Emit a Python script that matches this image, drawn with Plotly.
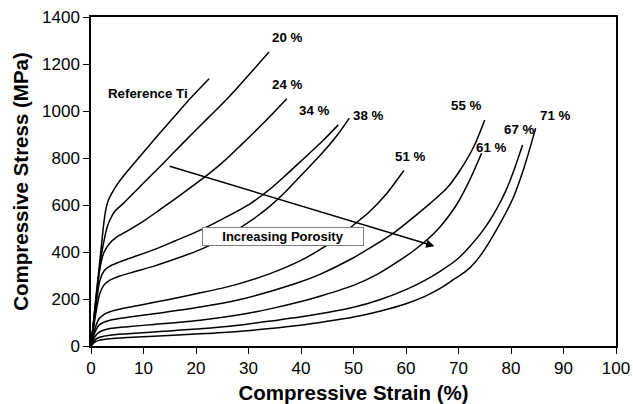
import plotly.graph_objects as go

# ---- data (strain %, stress MPa) ----
ref_x = [0, 1, 2, 2.4, 2.8, 3.3, 4, 5, 6.15, 9.3, 12.5, 15.7, 18.9, 22.5]
ref_y = [0, 220, 430, 515, 578, 620, 652, 688, 722, 806, 890, 972, 1053, 1137]

p20_x = [0, 1, 2, 2.5, 3, 3.6, 4.5, 6.15, 9.3, 12.5, 15.7, 18.9, 22.5, 26.5, 30, 33.9]
p20_y = [0, 210, 390, 450, 500, 536, 572, 607, 678, 749, 822, 895, 975, 1065, 1152, 1251]

p24_x = [0, 1, 1.7, 2.5, 3.5, 5, 6.8, 10.3, 13, 15.7, 19, 22.3, 25.5, 28.7, 33, 37.3]
p24_y = [0, 200, 330, 400, 435, 465, 488, 536, 578, 621, 675, 730, 790, 858, 952, 1052]

p34_x = [0, 1, 1.7, 2.5, 3.6, 5.5, 8.1, 12, 16, 20.8, 25, 30.3, 34.1, 37, 40.4, 44, 47.1]
p34_y = [0, 180, 280, 320, 340, 358, 379, 410, 447, 493, 540, 605, 668, 725, 795, 870, 941]

p38_x = [0, 1, 1.7, 2.5, 3.6, 5.5, 8.1, 12, 16, 20.8, 25, 28.4, 31.5, 34.1, 37, 40.4, 44, 47, 49.2]
p38_y = [0, 150, 225, 260, 280, 298, 315, 340, 370, 410, 455, 503, 550, 595, 655, 735, 820, 900, 970]

p51_x = [0, 0.7, 1.5, 2.5, 3.6, 6, 10, 14.4, 20, 27.1, 34.1, 39.8, 43.6, 47, 50, 53, 56, 59.6]
p51_y = [0, 70, 115, 135, 146, 160, 177, 196, 222, 258, 308, 362, 410, 460, 515, 570, 640, 747]

p55_x = [0, 0.7, 1.5, 2.5, 3.6, 7, 12, 20.8, 28, 34.1, 39.8, 43.6, 49.2, 53, 57.6, 61, 64.6, 67.8, 70.3, 72.9, 75]
p55_y = [0, 55, 88, 102, 110, 122, 137, 166, 196, 232, 272, 305, 366, 415, 480, 540, 607, 672, 748, 848, 962]

p61_x = [0, 0.7, 1.5, 2.5, 3.6, 7, 12, 20.8, 28, 34.1, 39.8, 43.6, 50, 54.5, 58.5, 62, 66, 69.6, 71.9, 74.4]
p61_y = [0, 38, 58, 68, 74, 82, 92, 110, 132, 158, 188, 212, 258, 305, 360, 415, 495, 600, 695, 820]

p67_x = [0, 0.7, 1.5, 2.5, 3.6, 7, 12, 20.8, 28, 34.1, 39.8, 43.6, 50, 55, 60, 63.5, 66.5, 69.7, 72.2, 74.7, 77.3, 79, 80.6, 82.2]
p67_y = [0, 24, 36, 42, 46, 52, 60, 73, 88, 106, 123, 137, 165, 197, 240, 278, 318, 368, 425, 493, 585, 660, 750, 855]

p71_x = [0, 0.7, 1.5, 2.5, 3.6, 7, 12, 20.8, 28, 34.1, 39.8, 43.6, 50, 55, 60, 63.5, 66.5, 69, 71.6, 73.3, 74.8, 76.6, 78.5, 80.4, 82.5, 84.7]
p71_y = [0, 16, 24, 28, 31, 36, 42, 52, 62, 74, 88, 100, 123, 148, 180, 210, 245, 282, 322, 360, 405, 470, 545, 630, 760, 927]

series = [
    ("Reference Ti", ref_x, ref_y),
    ("20 %", p20_x, p20_y),
    ("24 %", p24_x, p24_y),
    ("34 %", p34_x, p34_y),
    ("38 %", p38_x, p38_y),
    ("51 %", p51_x, p51_y),
    ("55 %", p55_x, p55_y),
    ("61 %", p61_x, p61_y),
    ("67 %", p67_x, p67_y),
    ("71 %", p71_x, p71_y),
]

# curve labels (text, x, y in data units)
label_text = ["Reference Ti", "20 %", "24 %", "34 %", "38 %", "51 %", "55 %", "61 %", "67 %", "71 %"]
label_x = [10.9, 37.4, 37.4, 42.4, 52.7, 60.8, 71.4, 76.2, 81.6, 88.4]
label_y = [1076, 1313, 1113, 1001, 979, 807, 1022, 844, 922, 979]

arrow_tail = (14.7, 767)
arrow_head = (65.4, 425)
box_text = "Increasing Porosity"
box_pos = (36.5, 467)

x_ticks = [0, 10, 20, 30, 40, 50, 60, 70, 80, 90, 100]
y_ticks = [0, 200, 400, 600, 800, 1000, 1200, 1400]

FONT = "Arial, Liberation Sans, sans-serif"

fig = go.Figure()
for name, xs, ys in series:
    fig.add_trace(go.Scatter(
        x=xs, y=ys, mode="lines", name=name,
        line=dict(color="black", width=1.5, shape="spline", smoothing=0.8),
        showlegend=False, hoverinfo="skip",
    ))

for t, lx, ly in zip(label_text, label_x, label_y):
    fig.add_annotation(x=lx, y=ly, text=f"<b>{t}</b>", showarrow=False,
                       font=dict(family=FONT, size=13.3, color="black"))

# arrow
fig.add_annotation(x=arrow_head[0], y=arrow_head[1], ax=arrow_tail[0], ay=arrow_tail[1],
                   xref="x", yref="y", axref="x", ayref="y", text="",
                   showarrow=True, arrowhead=2, arrowsize=1.1, arrowwidth=1.5,
                   arrowcolor="black")

# boxed text
fig.add_annotation(x=box_pos[0], y=box_pos[1], text=f"<b>{box_text}</b>", showarrow=False,
                   font=dict(family=FONT, size=13, color="black"),
                   bgcolor="white", bordercolor="#7f7f7f", borderwidth=1,
                   width=158, height=15, borderpad=1)

fig.update_layout(
    width=633, height=404,
    margin=dict(l=91, r=17, t=17, b=58),
    paper_bgcolor="white", plot_bgcolor="white",
    font=dict(family=FONT, color="black"),
)
fig.update_xaxes(
    range=[0, 100], tickvals=x_ticks, ticktext=[str(v) for v in x_ticks],
    showgrid=False, zeroline=False, showline=True, linecolor="black", linewidth=1.5,
    mirror=True, ticks="outside", ticklen=6, tickcolor="black", tickwidth=1.2,
    tickfont=dict(family=FONT, size=17, color="black"), automargin=False,
    title=dict(text="<b>Compressive Strain (%)</b>", font=dict(family=FONT, size=20.5), standoff=12),
)
fig.update_yaxes(
    range=[0, 1400], tickvals=y_ticks, ticktext=[str(v) for v in y_ticks],
    showgrid=False, zeroline=False, showline=True, linecolor="black", linewidth=1.5,
    mirror=True, ticks="outside", ticklen=6, tickcolor="black", tickwidth=1.2,
    tickfont=dict(family=FONT, size=17, color="black"), automargin=False,
    title=dict(text="<b>Compressive Stress (MPa)</b>", font=dict(family=FONT, size=20.5), standoff=8),
)

fig.write_html("out.html")
